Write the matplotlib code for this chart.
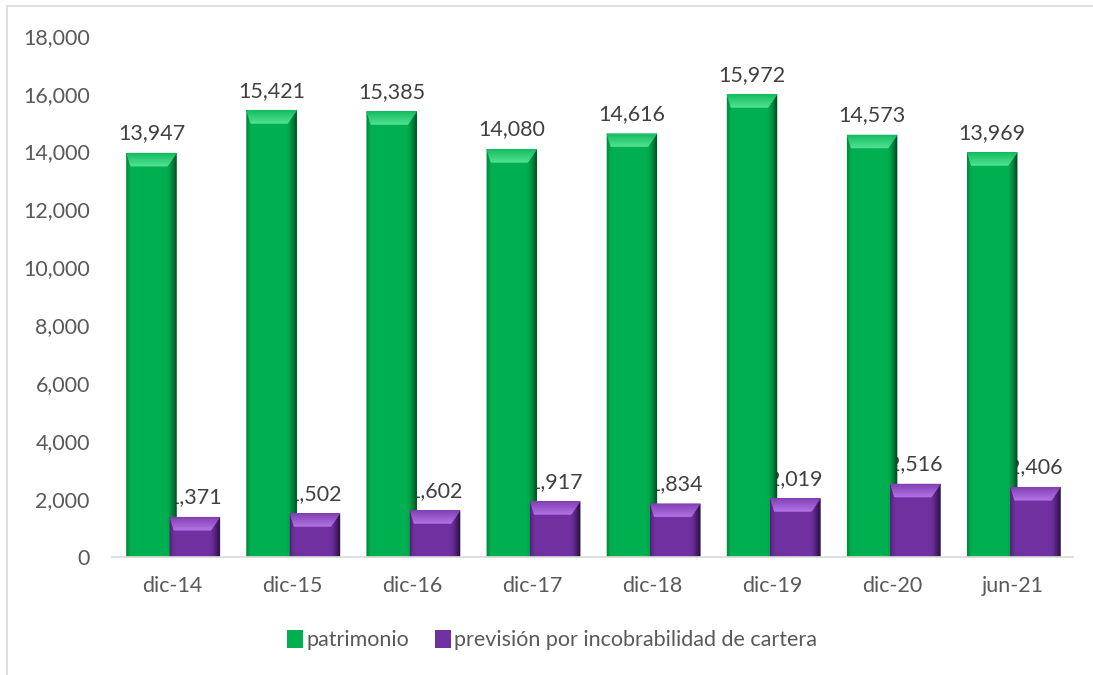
import numpy as np
import matplotlib
matplotlib.use('Agg')
import matplotlib.pyplot as plt
from matplotlib.patches import Polygon, Rectangle
from matplotlib.colors import to_rgb

# data
categories = ['dic-14', 'dic-15', 'dic-16', 'dic-17', 'dic-18', 'dic-19', 'dic-20', 'jun-21']
patrimonio = [13947, 15421, 15385, 14080, 14616, 15972, 14573, 13969]
prevision = [1371, 1502, 1602, 1917, 1834, 2019, 2516, 2406]
series_names = ['patrimonio', 'previsión por incobrabilidad de cartera']

plt.rcParams['font.family'] = ['Lato', 'DejaVu Sans']
FS = 15.5

# face, light (top bevel), dark (right bevel)
GREEN = ('#00b050', '#4ee090', '#003d1b')
PURPLE = ('#7030a0', '#b070e4', '#1e0a33')


def mix(c1, c2, f):
    a, b = np.array(to_rgb(c1)), np.array(to_rgb(c2))
    return tuple(a + (b - a) * f)


def bevel(ax, bars, cols, bxpx=9, bypx=13, steps=8):
    '''
    fake the excel bevel: light top, dark right side, soft left edge
    '''
    face, light, dark = cols
    inv = ax.transData.inverted()
    p0 = inv.transform((0, 0))
    p1 = inv.transform((bxpx, bypx))
    bx, by = p1[0] - p0[0], p1[1] - p0[1]
    z = bars[0].get_zorder()

    def piece(pts, c, dz):
        ax.add_patch(Polygon(pts, closed=True, facecolor=c, edgecolor=c,
                             linewidth=0.4, zorder=z + dz))

    for b in bars:
        x, y, w, h = b.get_x(), b.get_y(), b.get_width(), b.get_height()
        t = y + h
        lx = 0.45 * bx
        for i in range(steps):
            f0, f1 = i / steps, (i + 1) / steps
            # right side, getting darker towards the edge
            piece([(x + w - bx * f0, y), (x + w - bx * f0, t - by * f0),
                   (x + w - bx * f1, t - by * f1), (x + w - bx * f1, y)],
                  mix(face, dark, 0.85 * (1 - f0) ** 1.3), 0.1)
            # left side, thin and slightly darker
            piece([(x + lx * f0, y), (x + lx * f0, t - by * f0),
                   (x + lx * f1, t - by * f1), (x + lx * f1, y)],
                  mix(face, dark, 0.35 * (1 - f0)), 0.1)
            # top, lighter towards the inside
            piece([(x + lx * f0, t - by * f0), (x + w - bx * f0, t - by * f0),
                   (x + w - bx * f1, t - by * f1), (x + lx * f1, t - by * f1)],
                  mix(face, light, 0.2 + 0.8 * f1), 0.2)


fig = plt.figure(figsize=(10.93, 6.75), dpi=100)
ax = fig.add_axes([0.1025, 0.175, 0.879, 0.772])

x = np.arange(len(categories))
w = 0.415
b1 = ax.bar(x - 0.171, patrimonio, w, color=GREEN[0], zorder=2, label=series_names[0])
b2 = ax.bar(x + 0.19, prevision, w, color=PURPLE[0], zorder=3, label=series_names[1])

ax.set_xlim(-0.5, len(categories) - 0.5)
ax.set_ylim(0, 18000)
ax.set_yticks(np.arange(0, 18001, 2000))
ax.yaxis.set_major_formatter(matplotlib.ticker.FuncFormatter(lambda v, p: f'{v:,.0f}'))
ax.set_xticks(x)
ax.set_xticklabels(categories)
ax.tick_params(axis='both', length=0, labelsize=FS, colors='#595959')
ax.tick_params(axis='x', pad=14)
ax.tick_params(axis='y', pad=16)
for s in ['top', 'right', 'left']:
    ax.spines[s].set_visible(False)
ax.spines['bottom'].set_color('#d9d9d9')
ax.spines['bottom'].set_linewidth(1.2)
ax.spines['bottom'].set_zorder(5)

bevel(ax, b1, GREEN)
bevel(ax, b2, PURPLE)

for bars, vals in [(b1, patrimonio), (b2, prevision)]:
    for b, v in zip(bars, vals):
        ax.annotate(f'{v:,}', (b.get_x() + b.get_width() / 2, v), xytext=(0, 7),
                    textcoords='offset points', ha='center', va='bottom',
                    fontsize=FS, color='#404040', zorder=1)

# legend
leg = fig.legend(handles=[b1, b2], labels=series_names, loc='center', bbox_to_anchor=(0.505, 0.052),
                 ncol=2, frameon=False, fontsize=FS, handlelength=0.75, handleheight=0.9,
                 handletextpad=0.15, columnspacing=1.2, labelcolor='#595959')

# chart border (cropped on right/bottom)
fig.add_artist(Rectangle((0.006, -0.1), 1.2, 1.091, transform=fig.transFigure,
                         fill=False, edgecolor='#d9d9d9', linewidth=1.2))

fig.savefig('out.png', dpi=100)
